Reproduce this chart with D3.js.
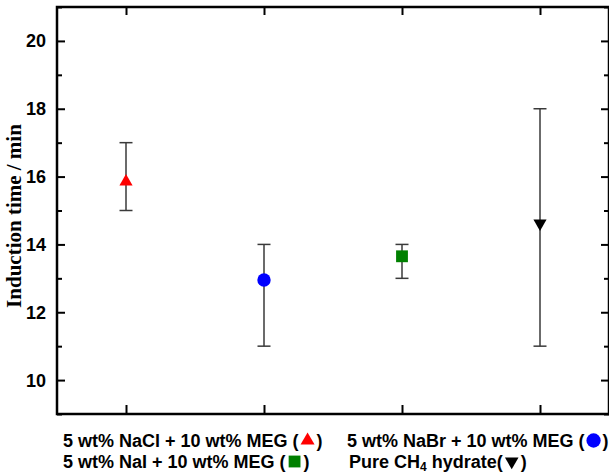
<!DOCTYPE html>
<html>
<head>
<meta charset="utf-8">
<script src="https://cdn.jsdelivr.net/npm/d3@7"></script>
<style>
  body { margin: 0; background: #fff; }
  svg { display: block; }
</style>
</head>
<body>
<div id="chart"></div>
<script>
// data
var samples = ['NaCl', 'NaBr', 'NaI', 'CH4'];
var xPos = [1, 2, 3, 4];
var meanTime = [15.85, 12.95, 13.65, 14.62];
var lowTime = [15, 11, 13, 11];
var highTime = [17, 14, 14, 18];
var markerShape = ['triangle', 'circle', 'square', 'triangleDown'];
var markerColor = ['#ff0000', '#0000ff', '#008000', '#000000'];
var yTicks = [10, 12, 14, 16, 18, 20];

var W = 609, H = 475;
var m = { left: 57, right: 0, top: 7, bottom: 61 };

var svg = d3.select('#chart').append('svg')
    .attr('width', W)
    .attr('height', H);

var x = d3.scaleLinear().domain([0.5, 4.5]).range([m.left, W - m.right]);
var y = d3.scaleLinear().domain([9, 21]).range([H - m.bottom, m.top]);

var minorY = d3.range(9, 22, 1).filter(function(v) { return v % 2 === 1; });

// frame axes, ticks point inward
svg.append('g')
    .attr('transform', 'translate(' + m.left + ',0)')
    .call(d3.axisRight(y).tickValues(yTicks).tickSize(8).tickFormat(''));
svg.append('g')
    .attr('transform', 'translate(' + m.left + ',0)')
    .call(d3.axisRight(y).tickValues(minorY).tickSize(5).tickFormat(''));
svg.append('g')
    .attr('transform', 'translate(' + (W - m.right) + ',0)')
    .call(d3.axisLeft(y).tickValues(yTicks).tickSize(8).tickFormat(''));
svg.append('g')
    .attr('transform', 'translate(' + (W - m.right) + ',0)')
    .call(d3.axisLeft(y).tickValues(minorY).tickSize(5).tickFormat(''));
svg.append('g')
    .attr('transform', 'translate(0,' + (H - m.bottom) + ')')
    .call(d3.axisTop(x).tickValues(xPos).tickSize(9).tickFormat(''));
svg.append('g')
    .attr('transform', 'translate(0,' + m.top + ')')
    .call(d3.axisBottom(x).tickValues(xPos).tickSize(8).tickFormat(''));

svg.selectAll('.domain').remove();
svg.selectAll('.tick line').attr('stroke', '#000').attr('stroke-width', 2);

svg.append('rect')
    .attr('x', m.left)
    .attr('y', m.top)
    .attr('width', W - m.right - m.left)
    .attr('height', H - m.bottom - m.top)
    .attr('fill', 'none')
    .attr('stroke', '#000')
    .attr('stroke-width', 2.5);

// y tick labels
svg.selectAll('.ylab')
    .data(yTicks)
    .enter().append('text')
    .attr('x', m.left - 11)
    .attr('y', function(d) { return y(d); })
    .attr('dy', '0.36em')
    .attr('text-anchor', 'end')
    .style('font-family', 'Liberation Sans, Arial, sans-serif')
    .style('font-weight', 'bold')
    .style('font-size', '18px')
    .text(function(d) { return d; });

svg.append('text')
    .attr('transform', 'translate(21,216) rotate(-90)')
    .attr('text-anchor', 'middle')
    .style('font-family', 'Liberation Serif, Times New Roman, serif')
    .style('font-weight', 'bold')
    .style('font-size', '21px')
    .text('Induction time / min');

// error bars
var bars = svg.append('g');
samples.forEach(function(s, i) {
    var cx = x(xPos[i]);
    var g = bars.append('g').attr('stroke', '#3a3a3a').attr('stroke-width', 1.5);
    g.append('line').attr('x1', cx).attr('x2', cx)
        .attr('y1', y(lowTime[i])).attr('y2', y(highTime[i]));
    g.append('line').attr('x1', cx - 6.5).attr('x2', cx + 6.5)
        .attr('y1', y(lowTime[i])).attr('y2', y(lowTime[i]));
    g.append('line').attr('x1', cx - 6.5).attr('x2', cx + 6.5)
        .attr('y1', y(highTime[i])).attr('y2', y(highTime[i]));
});

// markers
var symbolFor = {
    triangle: d3.symbolTriangle,
    circle: d3.symbolCircle,
    square: d3.symbolSquare,
    triangleDown: d3.symbolTriangle
};
var sizeFor = { triangle: 75, circle: 140, square: 140, triangleDown: 75 };
function markerPath(shp, size) {
    return d3.symbol().type(symbolFor[shp]).size(size)();
}
samples.forEach(function(s, i) {
    var shp = markerShape[i];
    var rot = shp === 'triangleDown' ? ' rotate(180)' : '';
    svg.append('path')
        .attr('d', markerPath(shp, sizeFor[shp]))
        .attr('transform', 'translate(' + x(xPos[i]) + ',' + y(meanTime[i]) + ')' + rot)
        .attr('fill', markerColor[i]);
});

// legend text below the axis, marker drawn between the brackets
var legend = svg.append('g')
    .style('font-family', 'Liberation Sans, Arial, sans-serif')
    .style('font-weight', 'bold')
    .style('font-size', '18px');

var legendSize = { triangle: 85, circle: 160, square: 140, triangleDown: 80 };
function legendLine(xp, yp, i, parts) {
    var t = legend.append('text').attr('x', xp).attr('y', yp);
    parts.forEach(function(p) {
        var ts = t.append('tspan').text(p.t);
        if (p.sub) ts.attr('dy', 3).style('font-size', '12px');
        if (p.back) ts.attr('dy', -3);
    });
    var w = t.node().getComputedTextLength();
    var shp = markerShape[i];
    var rot = shp === 'triangleDown' ? ' rotate(180)' : '';
    legend.append('path')
        .attr('d', markerPath(shp, legendSize[shp]))
        .attr('transform', 'translate(' + (xp + w + 9) + ',' + (yp - 6.5) + ')' + rot)
        .attr('fill', markerColor[i]);
    legend.append('text').attr('x', xp + w + 18).attr('y', yp).text(')');
}
legendLine(63, 447, 0, [{ t: '5 wt% NaCl + 10 wt% MEG (' }]);
legendLine(347, 447, 1, [{ t: '5 wt% NaBr + 10 wt% MEG (' }]);
legendLine(63, 468, 2, [{ t: '5 wt% NaI + 10 wt% MEG (' }]);
legendLine(349, 468, 3, [{ t: 'Pure CH' }, { t: '4', sub: true }, { t: ' hydrate(', back: true }]);
</script>
</body>
</html>
